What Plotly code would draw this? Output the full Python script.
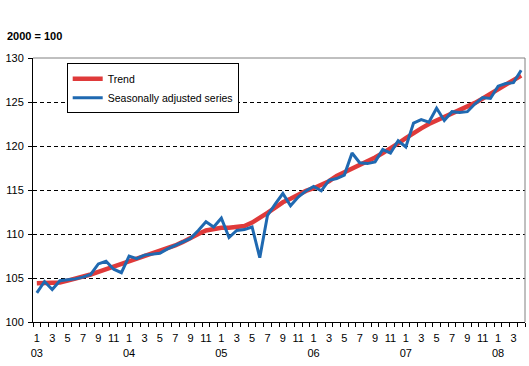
import plotly.graph_objects as go

years = ["03", "04", "05", "06", "07", "08"]
months_per_year = [12, 12, 12, 12, 12, 4]

trend = [104.4, 104.4, 104.4, 104.5, 104.7, 104.9, 105.1, 105.4, 105.7, 106.0, 106.3, 106.6,
         106.9, 107.2, 107.4, 107.7, 108.0, 108.3, 108.7, 109.1, 109.6, 110.0, 110.4, 110.6,
         110.7, 110.7, 110.8, 110.9, 111.3, 111.8, 112.4, 113.0, 113.6, 114.0, 114.5, 114.9,
         115.2, 115.6, 116.0, 116.6, 117.0, 117.4, 117.8, 118.2, 118.7, 119.2, 119.7, 120.3,
         120.9, 121.5, 122.0, 122.5, 122.9, 123.3, 123.7, 124.0, 124.4, 124.9, 125.4, 125.9,
         126.5, 127.0, 127.5, 128.0]

seasonal = [103.3, 104.6, 103.7, 104.7, 104.8, 104.9, 105.1, 105.4, 106.6, 106.9, 106.0, 105.6,
            107.5, 107.2, 107.6, 107.7, 107.8, 108.3, 108.7, 109.1, 109.5, 110.4, 111.4, 110.8,
            111.8, 109.6, 110.4, 110.5, 110.8, 107.3, 112.1, 113.4, 114.6, 113.2, 114.2, 114.9,
            115.4, 114.9, 116.1, 116.3, 116.7, 119.2, 118.1, 118.0, 118.2, 119.6, 119.2, 120.6,
            119.9, 122.6, 123.0, 122.7, 124.3, 122.9, 123.9, 123.8, 123.9, 124.8, 125.5, 125.4,
            126.8, 127.1, 127.2, 128.6]

y_ticks = [100, 105, 110, 115, 120, 125, 130]

# build month positions and labels
x = []
tickvals = []
ticktext = []
i = 0
for yr, n in zip(years, months_per_year):
    for m in range(1, n + 1):
        x.append(i)
        if m % 2 == 1:
            tickvals.append(i)
            ticktext.append(f"{m}<br>{yr}" if m == 1 else f"{m}<br> ")
        i += 1

fig = go.Figure()
fig.add_trace(go.Scatter(x=x, y=trend, mode="lines", name="Trend",
                         line=dict(color="#DF3A3A", width=4.5)))
fig.add_trace(go.Scatter(x=x, y=seasonal, mode="lines", name="Seasonally adjusted series",
                         line=dict(color="#1F69B1", width=3)))

fig.update_layout(
    width=529, height=366,
    margin=dict(l=33, r=4, t=58, b=44),
    paper_bgcolor="white", plot_bgcolor="white",
    font=dict(family="Liberation Sans, Arial, sans-serif", size=11, color="black"),
    title=dict(text="<b>2000 = 100</b>", x=7 / 529, xanchor="left", xref="container",
               y=1 - 36 / 366, yanchor="middle", yref="container",
               font=dict(size=11, color="black")),
    showlegend=True,
    legend=dict(x=0.0685, y=0.98, xanchor="left", yanchor="top",
                bgcolor="white", bordercolor="black", borderwidth=1,
                font=dict(size=10.5), tracegroupgap=0, itemwidth=30),
    xaxis=dict(range=[-0.5, len(x) - 0.5], tickmode="array", tickvals=tickvals,
               ticktext=ticktext, ticks="", showgrid=False, zeroline=False,
               showline=True, linecolor="black", linewidth=1, tickangle=0,
               ticklabelstandoff=6,
               minor=dict(tick0=-0.5, dtick=1, ticks="outside", ticklen=4,
                          tickcolor="black", tickwidth=1, showgrid=False)),
    yaxis=dict(range=[100, 130], tickmode="array", tickvals=y_ticks,
               ticks="outside", ticklen=4, tickcolor="black",
               showline=True, linecolor="black", linewidth=1, zeroline=False,
               showgrid=True, gridcolor="black", gridwidth=1, griddash="4px,3px",
               ticklabelstandoff=2),
    shapes=[
        dict(type="line", xref="paper", yref="paper", x0=0, x1=1, y0=1, y1=1,
             line=dict(color="#808080", width=1)),
        dict(type="line", xref="paper", yref="paper", x0=1, x1=1, y0=0, y1=1,
             line=dict(color="#808080", width=1)),
    ],
)

fig.write_html("out.html", config={"displayModeBar": False},
               post_script="document.body.style.margin='0';document.body.style.overflow='hidden';")
